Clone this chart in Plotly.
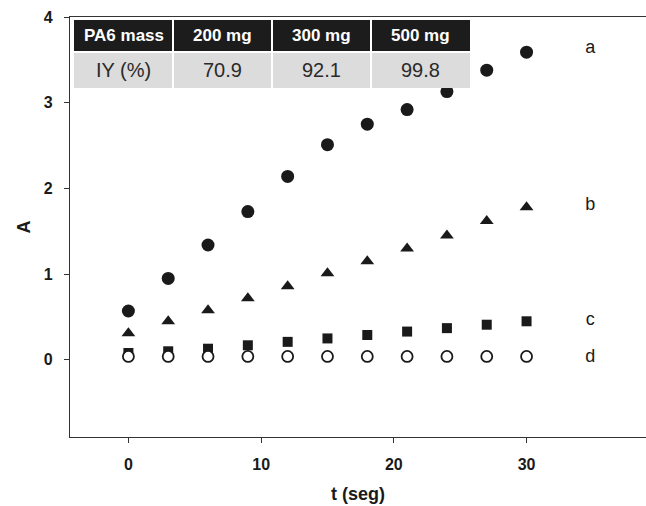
import plotly.graph_objects as go

t = [0, 3, 6, 9, 12, 15, 18, 21, 24, 27, 30]
a_vals = [0.57, 0.95, 1.34, 1.73, 2.14, 2.51, 2.75, 2.92, 3.13, 3.38, 3.59]
b_vals = [0.31, 0.45, 0.58, 0.72, 0.86, 1.01, 1.15, 1.30, 1.45, 1.62, 1.78]
c_vals = [0.08, 0.10, 0.13, 0.17, 0.21, 0.25, 0.29, 0.33, 0.37, 0.41, 0.45]
d_vals = [0.04, 0.04, 0.04, 0.04, 0.04, 0.04, 0.04, 0.04, 0.04, 0.04, 0.04]

series_labels = ["a", "b", "c", "d"]
label_x = 34.8
label_y = [3.63, 1.80, 0.46, 0.03]

table_header = ["PA6 mass", "200 mg", "300 mg", "500 mg"]
table_row = ["IY (%)", "70.9", "92.1", "99.8"]

x_ticks = [0, 10, 20, 30]
y_ticks = [0, 1, 2, 3, 4]

INK = "#1a1a1a"
FONT = "Liberation Sans, Arial"
W, H = 646, 506
ML, MR, MT, MB = 70, 0, 17, 69
PW, PH = W - ML - MR, H - MT - MB

fig = go.Figure()
fig.add_trace(go.Scatter(x=t, y=a_vals, mode="markers",
                         marker=dict(symbol="circle", size=13, color=INK), showlegend=False))
fig.add_trace(go.Scatter(x=t, y=b_vals, mode="markers",
                         marker=dict(symbol="triangle-up", size=12, color=INK), showlegend=False))
fig.add_trace(go.Scatter(x=t, y=c_vals, mode="markers",
                         marker=dict(symbol="square", size=10, color=INK), showlegend=False))
fig.add_trace(go.Scatter(x=t, y=d_vals, mode="markers",
                         marker=dict(symbol="circle", size=11, color="white",
                                     line=dict(color=INK, width=1.8)), showlegend=False))
fig.add_trace(go.Scatter(x=[label_x] * 4, y=label_y, mode="text", text=series_labels,
                         textfont=dict(family=FONT, size=18, color=INK),
                         textposition="middle center", showlegend=False))


def px_x(p):
    return (p - ML) / PW


def px_y(p):
    return (H - MB - p) / PH


# table geometry (pixels)
tab_left, tab_right = 74, 470
row_edges = [20, 52, 88]
ncol = len(table_header)
cw = (tab_right - tab_left) / ncol
gap = 1.0
shapes = []
annotations = []
rows = [(table_header, "#1c1c1c", dict(family=FONT, size=17, color="white", weight="bold")),
        (table_row, "#dcdcdc", dict(family=FONT, size=20, color="#2a2a2a"))]
for r, (vals, fill, fnt) in enumerate(rows):
    y0p, y1p = row_edges[r], row_edges[r + 1]
    for i, v in enumerate(vals):
        x0p = tab_left + i * cw
        x1p = x0p + cw
        shapes.append(dict(type="rect", xref="paper", yref="paper",
                           x0=px_x(x0p + (gap if i > 0 else 0)), x1=px_x(x1p - (gap if i < ncol - 1 else 0)),
                           y0=px_y(y1p - (gap if r == 0 else 0)), y1=px_y(y0p + (gap if r == 1 else 0)),
                           fillcolor=fill, line=dict(width=0), layer="above"))
        annotations.append(dict(xref="paper", yref="paper", x=px_x((x0p + x1p) / 2),
                                y=px_y((y0p + y1p) / 2), text=v, showarrow=False,
                                xanchor="center", yanchor="middle", font=fnt))

fig.update_layout(
    width=W, height=H,
    margin=dict(l=ML, r=MR, t=MT, b=MB, pad=0),
    paper_bgcolor="white", plot_bgcolor="white",
    font=dict(family=FONT, color=INK),
    shapes=shapes, annotations=annotations,
    xaxis=dict(range=[-4.4, 39.0], tickvals=x_ticks, showgrid=False, zeroline=False,
               showline=True, linecolor="#333", linewidth=1.3, mirror=True,
               ticks="outside", ticklen=5, tickcolor="#333", tickwidth=1.3,
               ticklabelstandoff=8,
               tickfont=dict(size=16, weight="bold", color=INK),
               title=dict(text="t (seg)", font=dict(size=18, weight="bold", color=INK), standoff=15)),
    yaxis=dict(range=[-0.9, 4.0], tickvals=y_ticks, showgrid=False, zeroline=False,
               showline=True, linecolor="#333", linewidth=1.3, mirror=False,
               ticks="outside", ticklen=5, tickcolor="#333", tickwidth=1.3,
               ticklabelstandoff=8,
               tickfont=dict(size=16, weight="bold", color=INK),
               title=dict(text="A", font=dict(size=18, weight="bold", color=INK), standoff=8)),
)

fig.write_html("out.html")
